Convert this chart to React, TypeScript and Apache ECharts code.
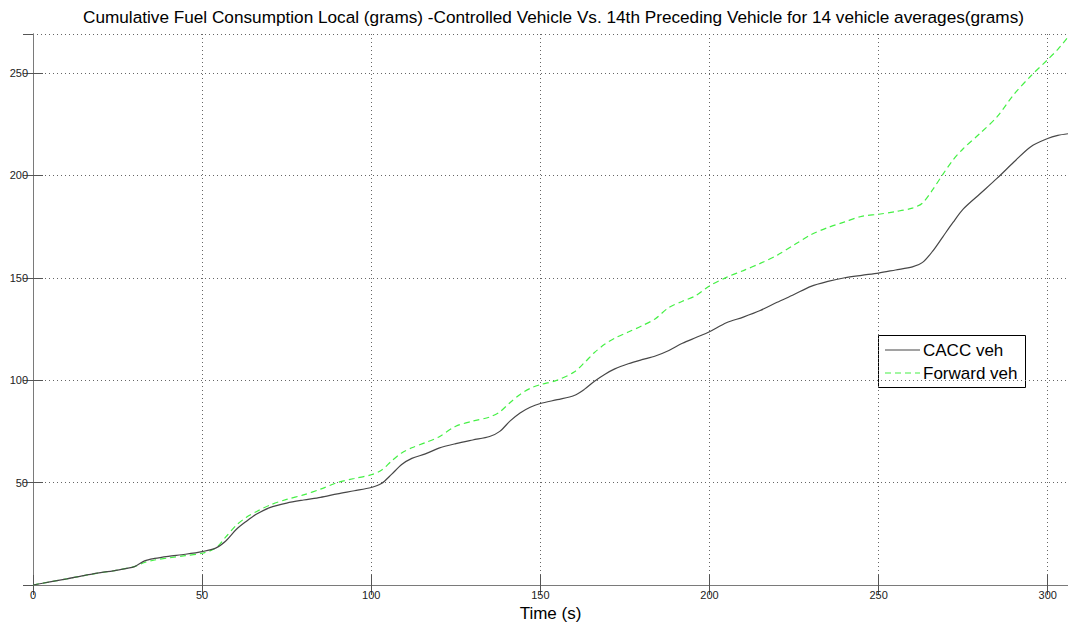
import React, { useEffect, useRef } from "react";
import * as echarts from "echarts";

const titleText =
  "Cumulative Fuel Consumption Local (grams) -Controlled Vehicle Vs. 14th Preceding Vehicle for 14 vehicle averages(grams)";
const xAxisName = "Time (s)";
const seriesNames = ["CACC veh", "Forward veh"];

const timeS = [
  0, 5, 10, 15, 20, 25, 30, 33, 36, 40, 45, 50, 54, 57, 60, 63, 66, 70, 75, 80, 85, 90, 95, 100,
  103, 106, 109, 112, 116, 120, 125, 130, 135, 138, 141, 144, 147, 150, 155, 160, 163, 166, 169,
  172, 176, 180, 184, 188, 192, 196, 200, 205, 210, 215, 220, 225, 230, 235, 240, 245, 250, 255,
  260, 263, 266, 269, 272, 275, 280, 285, 290, 295, 300, 303, 306,
];

const caccVeh = [
  0, 1.5, 3, 4.6, 6, 7.3, 9, 11.8, 13, 14, 15, 16.3, 18, 21.5, 27, 31, 34.5, 37.8, 40, 41.5, 42.8,
  44.5, 46, 47.6, 49.5, 54, 58.8, 61.8, 64, 66.8, 69, 70.8, 72.5, 75, 80, 84, 86.8, 88.6, 90.5,
  92.5, 95.5, 99.5, 102.8, 105.5, 108, 110, 111.8, 114.5, 118, 120.8, 123.6, 128, 130.8, 134, 138,
  141.8, 145.8, 148.2, 150, 151.2, 152.3, 153.8, 155.3, 157.5, 163, 170, 177, 183.5, 191, 198.5,
  206.5, 214, 218, 219.5, 220.3,
];

const forwardVeh = [
  0, 1.5, 3, 4.6, 6, 7.3, 9, 11, 12.2, 13.2, 14.3, 15.5, 18, 23.5, 29, 33, 35.8, 39, 41.8, 44, 46.8,
  50, 52, 53.8, 56, 60.5, 64.5, 67, 69.5, 72.3, 77.5, 80, 82, 84.5, 89, 93, 96, 97.8, 100, 104,
  108.5, 113.5, 117.5, 120.5, 123.5, 126.5, 130, 135.5, 138.5, 141.3, 146, 150.2, 153.5, 157, 161,
  166, 171, 174.5, 177.3, 180, 181, 182.3, 184, 186.5, 193, 200.5, 207.5, 213, 220.5, 228.5, 239.5,
  248.5, 256.5, 261.5, 267.5,
];

const X_MAX = 306;
const Y_MAX = 269;
const FONT = "'Liberation Sans', Arial, sans-serif";
const BLACK_LINE = "#474747";
const GREEN_LINE = "#45f045";

export default function App() {
  const ref = useRef<HTMLDivElement>(null);

  useEffect(() => {
    if (!ref.current) return;
    const chart = echarts.init(ref.current, undefined, { renderer: "svg" });

    const axisLine = { show: true, lineStyle: { color: "#7a7a7a", width: 1 } };
    const axisTick = { show: true, inside: true, length: 10, lineStyle: { color: "#555", width: 1 } };
    const splitLine = { show: true, lineStyle: { color: "#666", width: 1, type: [1, 3] as any } };

    const option: any = {
      animation: false,
      backgroundColor: "#fff",
      textStyle: { fontFamily: FONT },
      title: {
        text: titleText,
        left: 78,
        top: 3,
        textStyle: { fontFamily: FONT, fontSize: 17.2, fontWeight: "normal", color: "#000" },
      },
      grid: { left: 33, right: 0, top: 34, bottom: 41, containLabel: false, outerBoundsMode: "none" },
      xAxis: [
        {
          type: "value",
          min: 0,
          max: X_MAX,
          interval: 50,
          position: "bottom",
          name: xAxisName,
          nameLocation: "middle",
          nameGap: 19,
          nameTextStyle: { fontFamily: FONT, fontSize: 17, color: "#000" },
          axisLine,
          axisTick,
          axisLabel: { color: "#222", fontSize: 11, margin: 4, fontFamily: FONT, showMaxLabel: false },
          splitLine,
        },
        {
          type: "value",
          min: 0,
          max: X_MAX,
          interval: 50,
          position: "top",
          axisLine,
          axisTick,
          axisLabel: { show: false },
          splitLine: { show: false },
        },
      ],
      yAxis: [
        {
          type: "value",
          min: 0,
          max: Y_MAX,
          interval: 50,
          position: "left",
          axisLine,
          axisTick,
          axisLabel: {
            color: "#222",
            fontSize: 11,
            margin: 5,
            fontFamily: FONT,
            showMaxLabel: false,
            showMinLabel: false,
          },
          splitLine,
        },
        {
          type: "value",
          min: 0,
          max: Y_MAX,
          interval: 50,
          position: "right",
          axisLine,
          axisTick,
          axisLabel: { show: false },
          splitLine: { show: false },
        },
      ],
      graphic: [
        {
          type: "group",
          z: 100,
          children: [
            {
              type: "rect",
              shape: { x: 878.5, y: 335.5, width: 147, height: 52 },
              style: { fill: "#fff", stroke: "#000", lineWidth: 1 },
            },
            {
              type: "line",
              shape: { x1: 885, y1: 350, x2: 920, y2: 350 },
              style: { stroke: BLACK_LINE, lineWidth: 1.2 },
            },
            {
              type: "text",
              x: 923,
              y: 350,
              style: {
                text: seriesNames[0],
                fontFamily: FONT,
                fontSize: 17,
                fill: "#000",
                verticalAlign: "middle",
                align: "left",
              },
            },
            {
              type: "line",
              shape: { x1: 885, y1: 373, x2: 920, y2: 373 },
              style: { stroke: GREEN_LINE, lineWidth: 1.2, lineDash: [6, 4] },
            },
            {
              type: "text",
              x: 923,
              y: 373,
              style: {
                text: seriesNames[1],
                fontFamily: FONT,
                fontSize: 17,
                fill: "#000",
                verticalAlign: "middle",
                align: "left",
              },
            },
          ],
        },
      ],
      series: [
        {
          name: seriesNames[0],
          type: "line",
          xAxisIndex: 0,
          yAxisIndex: 0,
          data: timeS.map((t, i) => [t, caccVeh[i]]),
          showSymbol: false,
          symbol: "none",
          smooth: 0.3,
          lineStyle: { color: BLACK_LINE, width: 1.2 },
          itemStyle: { color: BLACK_LINE },
          z: 3,
        },
        {
          name: seriesNames[1],
          type: "line",
          xAxisIndex: 0,
          yAxisIndex: 0,
          data: timeS.map((t, i) => [t, forwardVeh[i]]),
          showSymbol: false,
          symbol: "none",
          smooth: 0.3,
          lineStyle: { color: GREEN_LINE, width: 1.2, type: [6, 4] },
          itemStyle: { color: GREEN_LINE },
          z: 2,
        },
      ],
    };

    chart.setOption(option);
    return () => chart.dispose();
  }, []);

  return (
    <div
      ref={ref}
      style={{ position: "fixed", left: 0, top: 0, width: 1068, height: 626, background: "#fff" }}
    />
  );
}
